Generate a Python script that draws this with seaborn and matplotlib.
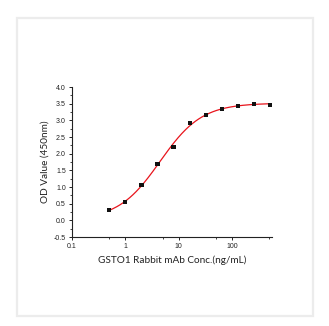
import numpy as np
import pandas as pd
import matplotlib
matplotlib.use("Agg")
import matplotlib.pyplot as plt
import seaborn as sns
from matplotlib.patches import Rectangle
from matplotlib.ticker import FixedLocator, NullFormatter, MultipleLocator

conc = [0.5, 1, 2, 4, 8, 16, 32, 64, 128, 256, 512]
od = [0.31, 0.55, 1.06, 1.69, 2.21, 2.91, 3.15, 3.35, 3.43, 3.50, 3.47]
x_ticks = [0.1, 1, 10, 100]
x_tick_labels = ["0.1", "1", "10", "100"]
y_ticks = [-0.5, 0.0, 0.5, 1.0, 1.5, 2.0, 2.5, 3.0, 3.5, 4.0]

sns.set_style("white")
plt.rcParams['font.family'] = ['Lato', 'DejaVu Sans']

df = pd.DataFrame({"conc": conc, "od": od})

# 4-parameter logistic fit (grid search on EC50/Hill, linear LS for bottom/top)
x = np.array(conc, float)
y = np.array(od, float)
best = None
for lc in np.linspace(-0.5, 2.0, 251):
    for h in np.linspace(0.5, 2.5, 201):
        s = 1.0 / (1.0 + (10 ** lc / x) ** h)
        A = np.vstack([1 - s, s]).T
        coef, *_ = np.linalg.lstsq(A, y, rcond=None)
        r = np.sum((A @ coef - y) ** 2)
        if best is None or r < best[0]:
            best = (r, lc, h, coef)
_, lc, h, coef = best
xf = np.logspace(np.log10(x.min()), np.log10(x.max()), 300)
sf = 1.0 / (1.0 + (10 ** lc / xf) ** h)
fit = pd.DataFrame({"conc": xf, "od": coef[0] * (1 - sf) + coef[1] * sf})

fig = plt.figure(figsize=(3.29, 3.26), dpi=100)
fig.patches.append(Rectangle((17 / 329, 10 / 326), 296 / 329, 298 / 326,
                             transform=fig.transFigure, fill=False,
                             edgecolor="#ececec", linewidth=1.6))
ax = fig.add_axes([72 / 329, 89 / 326, 200 / 329, 150 / 326])

sns.lineplot(data=fit, x="conc", y="od", ax=ax, color="#e8141c", linewidth=0.9)
sns.scatterplot(data=df, x="conc", y="od", ax=ax, marker="s", color="#111111",
                s=9, edgecolor="none", zorder=3)

ax.set_xscale("log")
ax.set_xlim(0.1, 560)
ax.set_ylim(-0.5, 4.0)
ax.xaxis.set_major_locator(FixedLocator(x_ticks))
ax.set_xticklabels(x_tick_labels)
ax.xaxis.set_minor_locator(FixedLocator([0.5, 5, 50, 500]))
ax.xaxis.set_minor_formatter(NullFormatter())
ax.set_yticks(y_ticks)
ax.set_yticklabels([f"{v:.1f}" for v in y_ticks])
ax.yaxis.set_minor_locator(MultipleLocator(0.25))

for side in ["top", "right"]:
    ax.spines[side].set_visible(False)
for side in ["left", "bottom"]:
    ax.spines[side].set_color("#222222")
    ax.spines[side].set_linewidth(0.8)

ax.tick_params(axis="both", which="major", direction="out", length=2.5, width=0.7,
               labelsize=5, pad=2, colors="#222222", left=True, bottom=True)
ax.tick_params(axis="both", which="minor", direction="out", length=1.5, width=0.6,
               colors="#222222", left=True, bottom=True)
for t in ax.get_xticklabels() + ax.get_yticklabels():
    t.set_fontfamily(["Liberation Sans", "DejaVu Sans"])

ax.set_xlabel("GSTO1 Rabbit mAb Conc.(ng/mL)", fontsize=7.2, color="#222222", labelpad=4)
ax.set_ylabel("OD Value (450nm)", fontsize=7.2, color="#222222", labelpad=3)
ax.grid(False)

fig.savefig("out.png", dpi=100, facecolor="white")
